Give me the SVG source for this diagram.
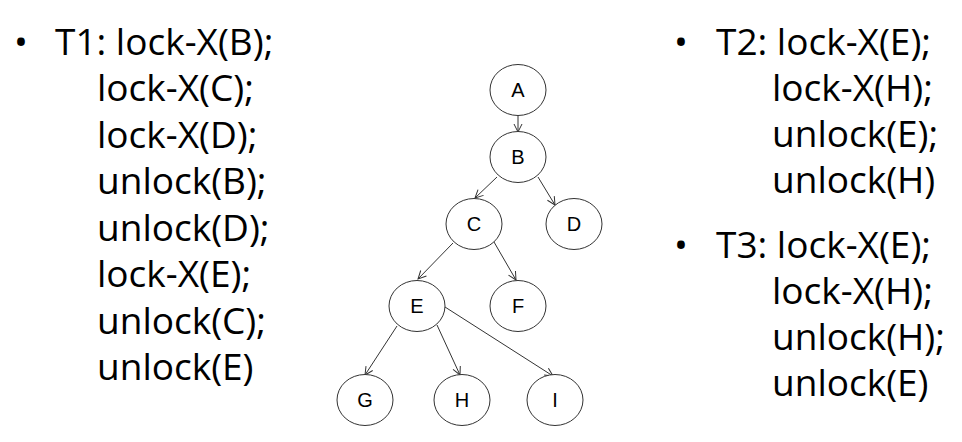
<svg xmlns="http://www.w3.org/2000/svg" width="962" height="442" viewBox="0 0 962 442">
<defs>
<marker id="arr" markerWidth="10" markerHeight="10" refX="9" refY="5" orient="auto" markerUnits="userSpaceOnUse">
<path d="M1,1 L9,5 L1,9" fill="none" stroke="#333" stroke-width="1"/>
</marker>
<style>
.t{font-family:"Open Sans","Noto Sans",sans-serif;font-size:37px;fill:#000}
.ne{fill:#fff;stroke:#333;stroke-width:1}
.nt{font-family:"Liberation Sans",Arial,sans-serif;font-size:20px;fill:#000;text-anchor:middle}
.e line{stroke:#333;stroke-width:1;marker-end:url(#arr)}
</style>
</defs>
<rect width="962" height="442" fill="#fff"/>
<g id="t1" class="t">
<text x="14" y="55">•</text>
<text x="55" y="55">T1: lock-X(B);</text>
<text x="97" y="101">lock-X(C);</text>
<text x="97" y="148">lock-X(D);</text>
<text x="97" y="194">unlock(B);</text>
<text x="97" y="241">unlock(D);</text>
<text x="97" y="287">lock-X(E);</text>
<text x="97" y="334">unlock(C);</text>
<text x="97" y="380">unlock(E)</text>
</g>
<g id="t2" class="t">
<text x="674" y="55">•</text>
<text x="716" y="55">T2: lock-X(E);</text>
<text x="772" y="101">lock-X(H);</text>
<text x="772" y="147">unlock(E);</text>
<text x="772" y="193">unlock(H)</text>
</g>
<g id="t3" class="t">
<text x="674" y="258">•</text>
<text x="716" y="258">T3: lock-X(E);</text>
<text x="772" y="304">lock-X(H);</text>
<text x="772" y="350">unlock(H);</text>
<text x="772" y="396">unlock(E)</text>
</g>
<g id="connectors" class="e">
<line x1="518" y1="115" x2="518" y2="132"/>
<line x1="497" y1="177" x2="475" y2="198"/>
<line x1="538" y1="177" x2="555" y2="205"/>
<line x1="453" y1="243" x2="418" y2="279"/>
<line x1="494" y1="242" x2="516" y2="280"/>
<line x1="397" y1="326" x2="365" y2="375"/>
<line x1="437" y1="325" x2="460" y2="375"/>
<line x1="445" y1="307" x2="553" y2="376"/>
</g>
<g id="nA"><ellipse class="ne" cx="518" cy="90" rx="28" ry="25.5"/><text class="nt" x="518" y="97" font-size="20">A</text></g>
<g id="nB"><ellipse class="ne" cx="518" cy="157" rx="28" ry="25.5"/><text class="nt" x="518" y="164" font-size="20">B</text></g>
<g id="nC"><ellipse class="ne" cx="474" cy="224" rx="28" ry="25.5"/><text class="nt" x="474" y="231" font-size="20">C</text></g>
<g id="nD"><ellipse class="ne" cx="574" cy="224" rx="28" ry="25.5"/><text class="nt" x="574" y="231" font-size="20">D</text></g>
<g id="nE"><ellipse class="ne" cx="417" cy="306" rx="28" ry="25.5"/><text class="nt" x="417" y="313" font-size="20">E</text></g>
<g id="nF"><ellipse class="ne" cx="518" cy="306" rx="28" ry="25.5"/><text class="nt" x="518" y="313" font-size="20">F</text></g>
<g id="nG"><ellipse class="ne" cx="365" cy="400" rx="28" ry="25.5"/><text class="nt" x="365" y="407" font-size="20">G</text></g>
<g id="nH"><ellipse class="ne" cx="462" cy="400" rx="28" ry="25.5"/><text class="nt" x="462" y="407" font-size="20">H</text></g>
<g id="nI"><ellipse class="ne" cx="555" cy="400" rx="28" ry="25.5"/><text class="nt" x="555" y="407" font-size="20">I</text></g>
</svg>
